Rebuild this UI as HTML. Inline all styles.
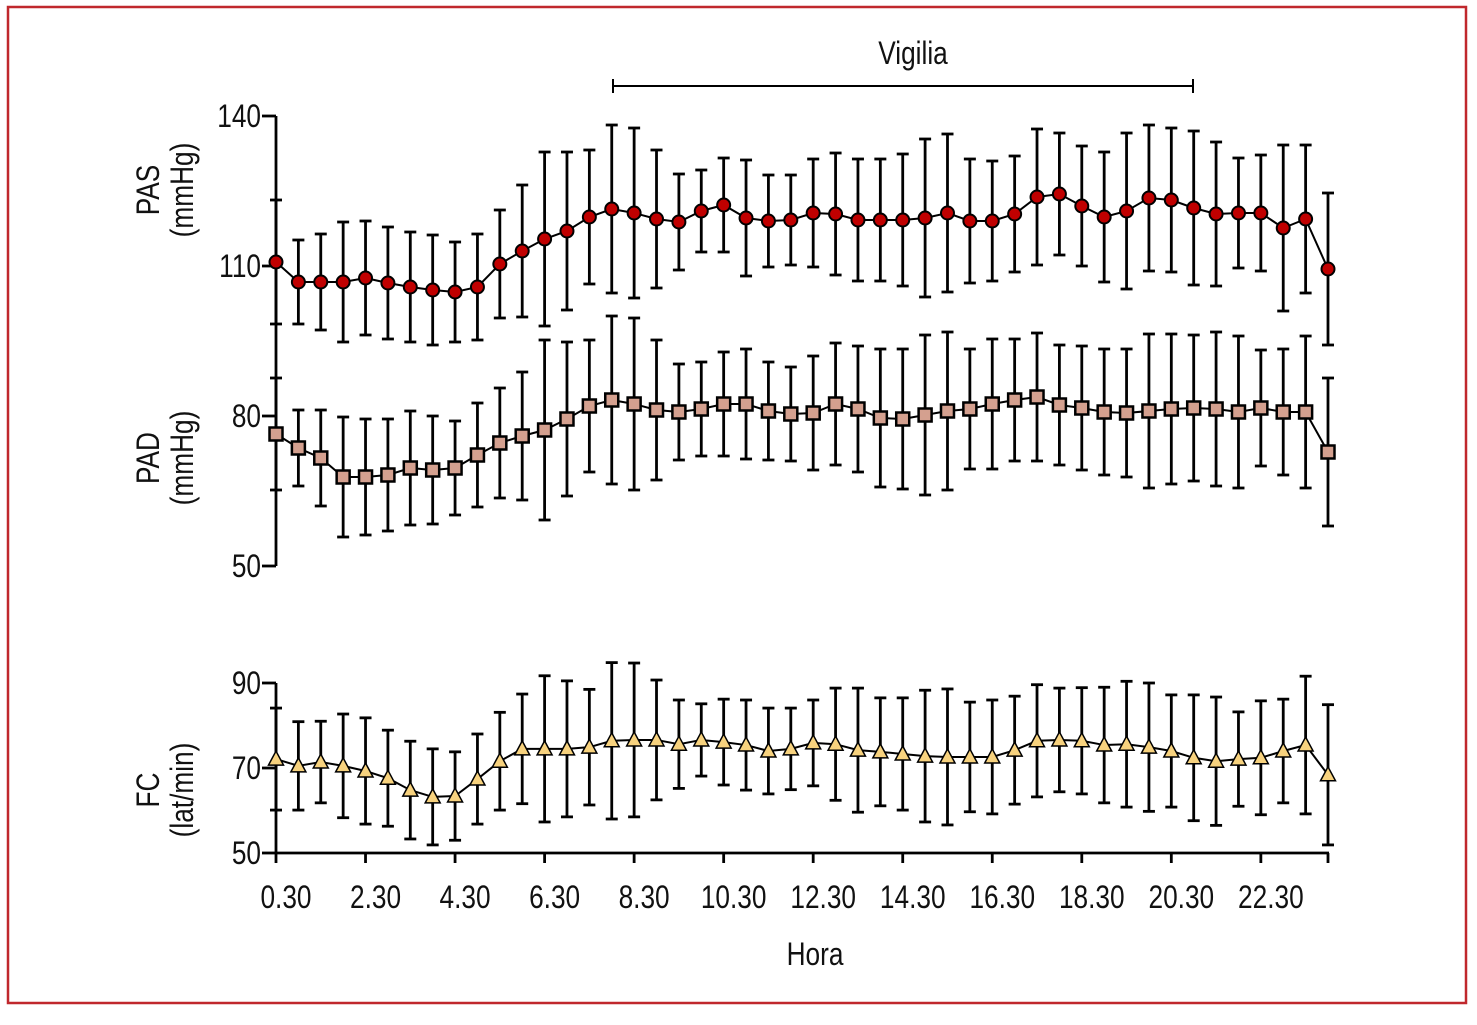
<!DOCTYPE html>
<html><head><meta charset="utf-8"><style>
body{margin:0;background:#fff}
svg text{font-family:"Liberation Sans Narrow","Liberation Sans",sans-serif;fill:#111}
</style></head><body>
<svg id="c" width="1477" height="1020" xmlns="http://www.w3.org/2000/svg">
<rect x="8" y="7" width="1458" height="996" fill="none" stroke="#c0282d" stroke-width="2.5"/>
</svg>
<script>
const hours=["0.30","2.30","4.30","6.30","8.30","10.30","12.30","14.30","16.30","18.30","20.30","22.30"];
const pas=[110.8,106.8,106.8,106.8,107.6,106.6,105.8,105.2,104.8,105.8,110.4,113,115.4,117,119.8,121.4,120.6,119.4,118.8,121,122.2,119.6,119,119.2,120.6,120.4,119.2,119.2,119.2,119.6,120.6,119,119,120.4,123.8,124.4,122,119.8,121,123.6,123.2,121.6,120.4,120.6,120.6,117.6,119.4,109.4];
const pasErr=[12.4,8.4,9.6,12,11.4,11.2,11,11,10,10.6,10.8,13.2,17.4,15.8,13.4,16.8,17,13.8,9.6,8.2,9.4,11.6,9.2,9,10.8,12.2,12.2,12.2,13.2,15.8,15.8,12.4,12,11.6,13.6,12.2,12,13,15.6,14.6,14.4,15.4,14.4,11,11.6,16.6,14.8,15.2];
const pad=[76.4,73.6,71.6,67.8,67.8,68.2,69.6,69.2,69.6,72.2,74.6,76,77.2,79.4,82,83.2,82.4,81.2,80.8,81.4,82.4,82.4,81,80.4,80.6,82.4,81.4,79.6,79.4,80.2,81,81.4,82.4,83.2,83.8,82.2,81.6,80.8,80.6,81,81.4,81.6,81.4,80.8,81.6,80.8,80.8,72.8];
const padErr=[11.2,7.6,9.6,12,11.6,11.2,11.4,10.8,9.4,10.4,11,12.8,18,15.4,13.2,16.8,17.2,14,9.6,9.4,10.4,11,9.8,9.4,11.4,12.2,12.6,13.8,14,16,15.8,12,13,12.2,12.8,12,12.4,12.6,12.8,15.4,15,14.6,15.4,15.2,11.6,12.6,15.2,14.8];
const fc=[72.1,70.5,71.4,70.5,69.3,67.6,64.8,63.2,63.4,67.4,71.6,74.5,74.5,74.5,74.9,76.4,76.6,76.6,75.6,76.6,76.1,75.4,74,74.5,75.9,75.6,74.2,73.8,73.3,72.8,72.6,72.6,72.6,74.2,76.4,76.6,76.4,75.4,75.6,74.9,74,72.4,71.6,72.1,72.4,74,75.4,68.4];
const fcErr=[12,10.4,9.6,12.2,12.5,11.3,11.5,11.3,10.4,10.6,11.5,12.9,17.2,16,13.6,18.4,18.1,14.1,10.4,8.5,10.1,10.6,10.1,9.6,10.1,13.2,14.6,12.7,13.2,15.5,16,12.9,13.4,12.7,13.2,12.2,12.5,13.6,14.8,15.1,13.2,14.8,15.1,11.1,13.4,12.2,16.2,16.5];

const svg=document.getElementById('c');const NS='http://www.w3.org/2000/svg';
function el(t,a,txt){const e=document.createElementNS(NS,t);for(const k in a)e.setAttribute(k,a[k]);if(txt!==undefined)e.textContent=txt;svg.appendChild(e);return e;}
function txt(x,y,s,anchor){return el('text',{transform:`translate(${x},${y}) scale(0.82,1)`,'font-size':32,'text-anchor':anchor},s);}
const X=i=>276+i*(1328-276)/47;
const Yp=v=>116+(140-v)*5;
const Yf=v=>683+(90-v)*4.25;
const SW=2.8;
let a=el('line',{x1:276,y1:116,x2:276,y2:566,stroke:'#000','stroke-width':SW});


[140,110,80,50].forEach(v=>{
 let t=el('line',{x1:262,y1:Yp(v),x2:276,y2:Yp(v),stroke:'#000','stroke-width':SW});
 
 
 let l=txt(261,Yp(v)+11,v,'end');
 
 
});
a=el('line',{x1:276,y1:683,x2:276,y2:853,stroke:'#000','stroke-width':SW});


[90,70,50].forEach(v=>{
 let t=el('line',{x1:262,y1:Yf(v),x2:276,y2:Yf(v),stroke:'#000','stroke-width':SW});
 
 
 let l=txt(261,Yf(v)+11,v,'end');
 
 
});
a=el('line',{x1:275,y1:853,x2:1329,y2:853,stroke:'#000','stroke-width':SW});


for(let k=0;k<=12;k++){const i=Math.min(k*4,47);
 let t=el('line',{x1:X(i),y1:853,x2:X(i),y2:863,stroke:'#000','stroke-width':SW});
 
 
 if(k<12){let l=txt(X(i)+10,908,hours[k],'middle');
 
 }
}
let xt=txt(815,965,'Hora','middle');


function ytitle(cx,cy,l1,l2,name){
 const g=document.createElementNS(NS,'text');g.setAttribute('transform',`translate(${cx},${cy}) rotate(-90) scale(0.82,1)`);g.setAttribute('font-size',32);g.setAttribute('text-anchor','middle');
 
 
 const t1=document.createElementNS(NS,'tspan');t1.setAttribute('x',0);t1.setAttribute('y',-6);t1.textContent=l1;
 const t2=document.createElementNS(NS,'tspan');t2.setAttribute('x',0);t2.setAttribute('y',28);t2.textContent=l2;
 g.appendChild(t1);g.appendChild(t2);svg.appendChild(g);}
ytitle(165,190,'PAS','(mmHg)','pas-axis-title');
ytitle(165,458,'PAD','(mmHg)','pad-axis-title');
ytitle(165,790,'FC','(lat/min)','fc-axis-title');
let vg=el('line',{x1:613,y1:86,x2:1193,y2:86,stroke:'#000','stroke-width':2});


[613,1193].forEach(x=>{let c=el('line',{x1:x,y1:79,x2:x,y2:93,stroke:'#000','stroke-width':2});
 
 });
let vt=txt(913,64,'Vigilia','middle');



function series(vals,errs,Y,shape,fill,name){
 vals.forEach((v,i)=>{const x=X(i);
  let e=el('line',{x1:x,y1:Y(v+errs[i]),x2:x,y2:Y(v-errs[i]),stroke:'#000','stroke-width':SW});
  
  
  [v+errs[i],v-errs[i]].forEach(w=>{let c=el('line',{x1:x-6,y1:Y(w),x2:x+6,y2:Y(w),stroke:'#000','stroke-width':SW});
   
   });
 });
 let p=el('polyline',{points:vals.map((v,i)=>X(i)+','+Y(v)).join(' '),fill:'none',stroke:'#000','stroke-width':2});
 
 
 vals.forEach((v,i)=>{const x=X(i),y=Y(v);let m;
  if(shape==='c')m=el('circle',{cx:x,cy:y,r:6.5,fill:fill,stroke:'#000','stroke-width':2});
  else if(shape==='s')m=el('rect',{x:x-6.5,y:y-6.5,width:13,height:13,fill:fill,stroke:'#000','stroke-width':2.5});
  else m=el('polygon',{points:`${x},${y-8} ${x+7.5},${y+6} ${x-7.5},${y+6}`,fill:fill,stroke:'#000','stroke-width':1.5});
  
  
 });
}
series(pas,pasErr,Yp,'c','#c00000','pas');
series(pad,padErr,Yp,'s','#d4a08f','pad');
series(fc,fcErr,Yf,'t','#f7d27e','fc');
</script>
</body></html>
